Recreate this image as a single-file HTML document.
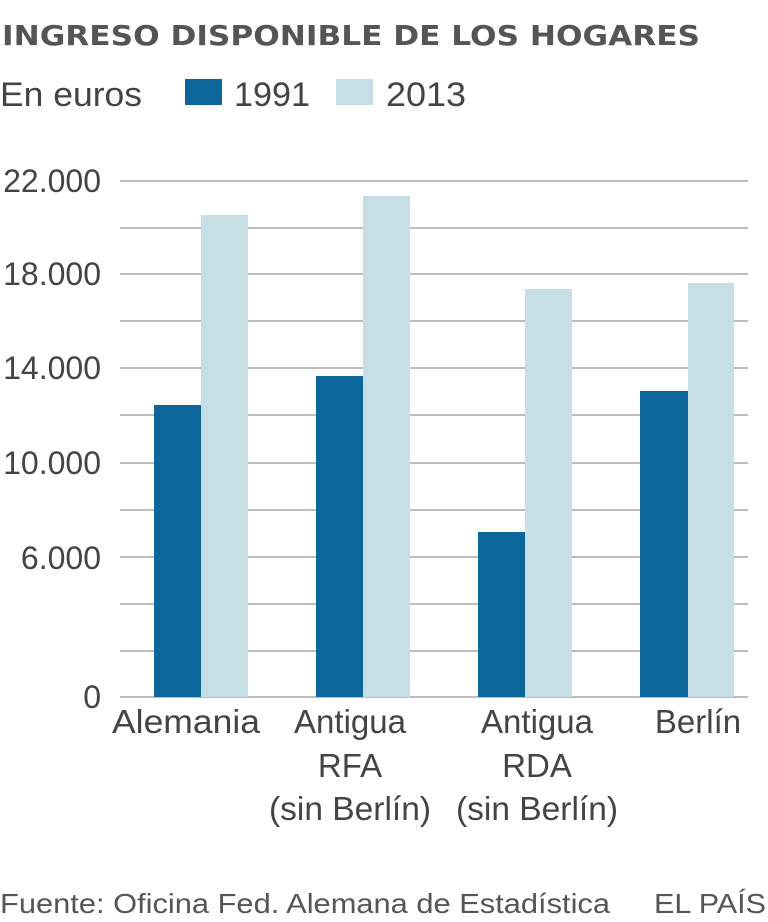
<!DOCTYPE html>
<html><head><meta charset="utf-8"><style>html,body{margin:0;padding:0;background:#fff}svg{display:block}</style></head>
<body>
<svg width="768" height="922" xmlns="http://www.w3.org/2000/svg" font-family="Liberation Sans, sans-serif" fill="#555">
<text x="2" y="45" font-family="DejaVu Sans, sans-serif" font-weight="bold" font-size="28" textLength="698" lengthAdjust="spacingAndGlyphs" fill="#555">INGRESO DISPONIBLE DE LOS HOGARES</text>
<text x="0" y="106" font-size="34" textLength="142" lengthAdjust="spacingAndGlyphs" fill="#444">En euros</text>
<rect x="185" y="79" width="37" height="26" fill="#0d6699"/>
<text x="234" y="106" font-size="34" textLength="76" lengthAdjust="spacingAndGlyphs" fill="#444">1991</text>
<rect x="336" y="79" width="37" height="26" fill="#c6dfe7"/>
<text x="386" y="106" font-size="34" textLength="80" lengthAdjust="spacingAndGlyphs" fill="#444">2013</text>
<g stroke="#bdbdbd" stroke-width="2">
<line x1="120" x2="748" y1="181" y2="181"/><line x1="120" x2="748" y1="228" y2="228"/>
<line x1="120" x2="748" y1="274" y2="274"/><line x1="120" x2="748" y1="321" y2="321"/>
<line x1="120" x2="748" y1="368" y2="368"/><line x1="120" x2="748" y1="415" y2="415"/>
<line x1="120" x2="748" y1="463" y2="463"/><line x1="120" x2="748" y1="510" y2="510"/>
<line x1="120" x2="748" y1="557" y2="557"/><line x1="120" x2="748" y1="604" y2="604"/>
<line x1="120" x2="748" y1="651" y2="651"/><line x1="120" x2="748" y1="697" y2="697"/>
</g>
<g font-size="32" text-anchor="end" fill="#444">
<text x="101" y="192">22.000</text><text x="101" y="285">18.000</text><text x="101" y="379">14.000</text>
<text x="101" y="474">10.000</text><text x="101" y="569">6.000</text><text x="101" y="708">0</text>
</g>
<g fill="#0d6699">
<rect x="154" y="405" width="47" height="292"/><rect x="316" y="376" width="47" height="321"/>
<rect x="478" y="532" width="47" height="165"/><rect x="640" y="391" width="48" height="306"/>
</g>
<g fill="#c6dfe7">
<rect x="201" y="215" width="47" height="482"/><rect x="363" y="196" width="47" height="501"/>
<rect x="525" y="289" width="47" height="408"/><rect x="688" y="283" width="46" height="414"/>
</g>
<g font-size="33" text-anchor="middle" fill="#444">
<text x="186" y="733" textLength="148" lengthAdjust="spacingAndGlyphs">Alemania</text>
<text x="350" y="733">Antigua</text><text x="350" y="777">RFA</text><text x="350" y="820" textLength="162" lengthAdjust="spacingAndGlyphs">(sin Berlín)</text>
<text x="537" y="733">Antigua</text><text x="537" y="777">RDA</text><text x="537" y="820" textLength="162" lengthAdjust="spacingAndGlyphs">(sin Berlín)</text>
<text x="698" y="733">Berlín</text>
</g>
<text x="0" y="913" font-size="28" textLength="610" lengthAdjust="spacingAndGlyphs" fill="#555">Fuente: Oficina Fed. Alemana de Estadística</text>
<text x="766" y="913" font-size="28" text-anchor="end" textLength="112" lengthAdjust="spacingAndGlyphs" fill="#555">EL PAÍS</text>
</svg>
</body></html>
